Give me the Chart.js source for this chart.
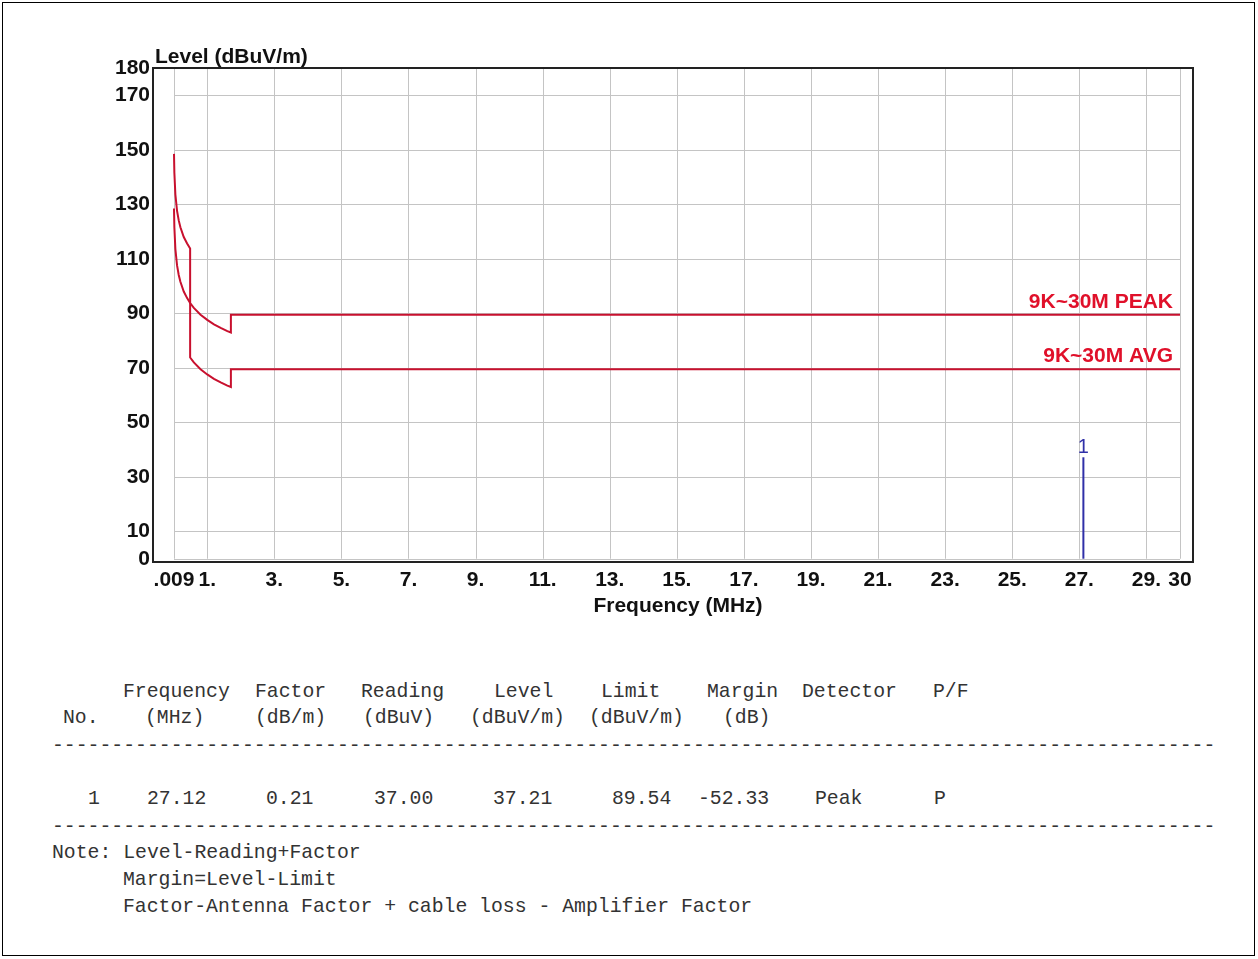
<!DOCTYPE html>
<html>
<head>
<meta charset="utf-8">
<script src="https://cdn.jsdelivr.net/npm/chart.js@4.4.1/dist/chart.umd.min.js"></script>
<style>
  html, body { margin: 0; padding: 0; background: #fff; }
  #page { position: relative; width: 1258px; height: 959px; overflow: hidden; }
  #frame { position: absolute; left: 2px; top: 2px; width: 1253px; height: 954px; border: 1.5px solid #000; box-sizing: border-box; }
  #myChart { position: absolute; left: 0; top: 0; }
  .t { position: absolute; font-family: "Liberation Mono", monospace; font-size: 19.8px; line-height: 24px; color: #333; white-space: pre; }
</style>
</head>
<body>
<div id="page">
  <div id="frame"></div>
  <canvas id="myChart" width="1258" height="640"></canvas>
  <div id="table"></div>
</div>
<script>
// limit lines (9kHz - 30MHz)
const limitFreq = [0.009, 0.02, 0.05, 0.1, 0.15, 0.2, 0.3, 0.4, 0.49, 0.49, 0.6, 0.8, 1.0, 1.2, 1.4, 1.6, 1.705, 1.705, 30]
const peakLimit = [148.5, 141.6, 133.6, 127.6, 124.1, 121.6, 118.0, 115.6, 113.8, 93.8, 92.0, 89.5, 87.6, 86.0, 84.7, 83.5, 83.0, 89.5, 89.5]
const avgLimit = [128.5, 121.6, 113.6, 107.6, 104.1, 101.6, 98.0, 95.6, 93.8, 73.8, 72.0, 69.5, 67.6, 66.0, 64.7, 63.5, 63.0, 69.5, 69.5]

// measured peak
const markerFreq = [27.12]
const markerLevel = [37.21]

const xTicks = [0.009, 1, 3, 5, 7, 9, 11, 13, 15, 17, 19, 21, 23, 25, 27, 29, 30]
const xTickLabels = ['.009', '1.', '3.', '5.', '7.', '9.', '11.', '13.', '15.', '17.', '19.', '21.', '23.', '25.', '27.', '29.', '30']
const yTicks = [0, 10, 30, 50, 70, 90, 110, 130, 150, 170, 180]

// table text
const headTop = ['Frequency', 'Factor', 'Reading', 'Level', 'Limit', 'Margin', 'Detector', 'P/F']
const headBottom = ['No.', '(MHz)', '(dB/m)', '(dBuV)', '(dBuV/m)', '(dBuV/m)', '(dB)']
const row1 = ['1', '27.12', '0.21', '37.00', '37.21', '89.54', '-52.33', 'Peak', 'P']
const notes = ['Note: Level-Reading+Factor', 'Margin=Level-Limit', 'Factor-Antenna Factor + cable loss - Amplifier Factor']

const RED = '#c8102e'
const RED_TEXT = '#e0102a'
const BLUE = '#3030a8'
const FONT = 'Liberation Sans, Arial, sans-serif'

Chart.defaults.font.family = FONT

const pts = (xs, ys) => xs.map((v, i) => ({ x: v, y: ys[i] }))

const gridAndFrame = {
    id: 'gridAndFrame',
    beforeDatasetsDraw(chart) {
        const { ctx, chartArea: a, scales: { x, y } } = chart
        const x0 = x.getPixelForValue(xTicks[0])
        const x1 = x.getPixelForValue(xTicks[xTicks.length - 1])
        const y0 = y.getPixelForValue(yTicks[0])
        ctx.save()
        ctx.strokeStyle = '#c4c4c4'
        ctx.lineWidth = 1
        ctx.beginPath()
        xTicks.forEach(v => {
            const px = Math.round(x.getPixelForValue(v)) + 0.5
            ctx.moveTo(px, y0)
            ctx.lineTo(px, a.top)
        })
        yTicks.forEach(v => {
            const py = Math.round(y.getPixelForValue(v)) + 0.5
            ctx.moveTo(x0, py)
            ctx.lineTo(x1, py)
        })
        ctx.stroke()
        ctx.restore()
    },
    afterDatasetsDraw(chart) {
        const { ctx, chartArea: a, scales: { x, y } } = chart
        ctx.save()
        ctx.strokeStyle = '#222'
        ctx.lineWidth = 2
        ctx.strokeRect(a.left, a.top, a.right - a.left, a.bottom - a.top)

        ctx.fillStyle = '#111'
        ctx.font = 'bold 21px ' + FONT
        ctx.textAlign = 'left'
        ctx.textBaseline = 'alphabetic'
        ctx.fillText('Level (dBuV/m)', 155, 63)
        ctx.textAlign = 'center'
        ctx.fillText('Frequency (MHz)', 678, 612)

        ctx.fillStyle = RED_TEXT
        ctx.textAlign = 'right'
        const xr = x.getPixelForValue(30) - 7
        ctx.fillText('9K~30M PEAK', xr, y.getPixelForValue(peakLimit[peakLimit.length - 1]) - 7)
        ctx.fillText('9K~30M AVG', xr, y.getPixelForValue(avgLimit[avgLimit.length - 1]) - 7)

        ctx.fillStyle = BLUE
        ctx.textAlign = 'center'
        ctx.font = '20px ' + FONT
        markerFreq.forEach((f, i) => {
            ctx.fillText(String(i + 1), x.getPixelForValue(f), y.getPixelForValue(markerLevel[i]) - 4)
        })
        ctx.restore()
    }
}

const ctx = document.getElementById('myChart').getContext('2d')

const myChart = new Chart(ctx, {
    type: 'line',
    data: {
        datasets: [{
            label: '9K~30M PEAK',
            data: pts(limitFreq, peakLimit),
            borderColor: RED,
            borderWidth: 2,
            pointRadius: 0,
            tension: 0
        }, {
            label: '9K~30M AVG',
            data: pts(limitFreq, avgLimit),
            borderColor: RED,
            borderWidth: 2,
            pointRadius: 0,
            tension: 0
        }, {
            label: 'Peak',
            data: markerFreq.flatMap((f, i) => [{ x: f, y: 0 }, { x: f, y: markerLevel[i] }]),
            borderColor: BLUE,
            borderWidth: 2,
            pointRadius: 0,
            tension: 0
        }]
    },
    options: {
        responsive: false,
        animation: false,
        devicePixelRatio: 1,
        layout: { padding: { left: 0, top: 68, right: 65, bottom: 0 } },
        plugins: {
            legend: { display: false },
            tooltip: { enabled: false }
        },
        scales: {
            x: {
                type: 'linear',
                min: -0.617,
                max: 30.388,
                grid: { display: false, drawTicks: false },
                border: { display: false },
                afterBuildTicks: s => { s.ticks = xTicks.map(v => ({ value: v })) },
                afterFit: s => { s.height = 78 },
                ticks: {
                    autoSkip: false,
                    maxRotation: 0,
                    padding: 6,
                    color: '#111',
                    font: { size: 21, weight: 'bold' },
                    callback: (v, i) => xTickLabels[i]
                }
            },
            y: {
                min: -1.2,
                max: 180,
                grid: { display: false, drawTicks: false },
                border: { display: false },
                afterBuildTicks: s => { s.ticks = yTicks.map(v => ({ value: v })) },
                afterFit: s => { s.width = 153 },
                ticks: {
                    autoSkip: false,
                    padding: 3,
                    color: '#111',
                    font: { size: 21, weight: 'bold' }
                }
            }
        }
    },
    plugins: [gridAndFrame]
});

// table below the chart
const table = document.getElementById('table')
function put(text, left, cy) {
    const d = document.createElement('div')
    d.className = 't'
    d.textContent = text
    d.style.left = left + 'px'
    d.style.top = (cy - 12) + 'px'
    table.appendChild(d)
}
const headTopX = [123, 255, 361, 494, 601, 707, 802, 933]
const headBottomX = [63, 145, 255, 363, 470, 589, 723]
const row1X = [88, 147, 266, 374, 493, 612, 698, 815, 934]
headTop.forEach((t, i) => put(t, headTopX[i], 692))
headBottom.forEach((t, i) => put(t, headBottomX[i], 718))
put('-'.repeat(98), 52, 746)
row1.forEach((t, i) => put(t, row1X[i], 799))
put('-'.repeat(98), 52, 827)
put(notes[0], 52, 853)
put(notes[1], 123, 880)
put(notes[2], 123, 907)
</script>
</body>
</html>
